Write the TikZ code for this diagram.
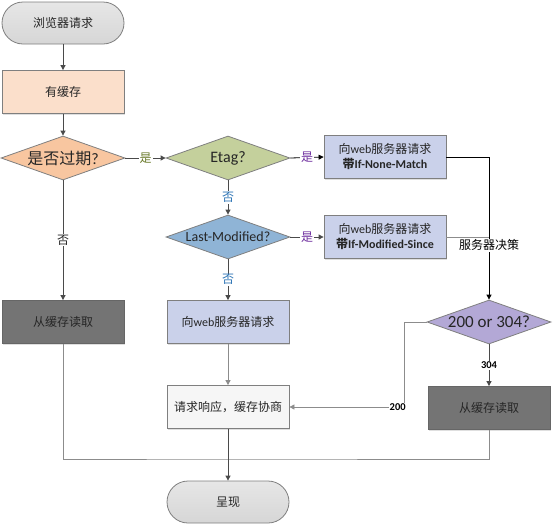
\documentclass[tikz,border=0pt]{standalone}
\usepackage{fontspec}
\setmainfont{Carlito}
\newfontfamily\cjk{Noto Sans CJK SC}
\usetikzlibrary{shapes.geometric,arrows.meta,shadows}
\definecolor{termfill}{HTML}{D6D6D6}
\definecolor{cachefill}{HTML}{FBDFCB}
\definecolor{expfill}{HTML}{F8C6A0}
\definecolor{etagfill}{HTML}{C4D09C}
\definecolor{lavfill}{HTML}{CAD1EA}
\definecolor{lmfill}{HTML}{8FB4D6}
\definecolor{purfill}{HTML}{B3A8D6}
\definecolor{darkfill}{HTML}{747474}
\definecolor{respfill}{HTML}{F6F6F6}
\definecolor{edgecol}{HTML}{4A4A4A}
\definecolor{lightedge}{HTML}{8C8C8C}
\definecolor{bordercol}{HTML}{7F7F7F}
\definecolor{txt}{HTML}{262626}
\definecolor{olivetxt}{HTML}{6B7B2B}
\definecolor{purtxt}{HTML}{7030A0}
\definecolor{bluetxt}{HTML}{2E75B6}
\newcommand{\zw}[1]{\makebox[0pt]{#1}}
\tikzset{
  base/.style={draw=bordercol, line width=0.8pt, text=txt, align=center, inner sep=1pt},
  term/.style={base, rectangle, rounded corners=21pt, minimum width=122pt, minimum height=42pt,
    top color=termfill!60!white, bottom color=termfill, font=\fontsize{12}{14}\selectfont},
  box/.style={base, rectangle, minimum width=122pt, minimum height=43pt,
    drop shadow={shadow xshift=1.2pt, shadow yshift=-1.2pt, opacity=0.25},
    font=\fontsize{12}{15}\selectfont},
  dec/.style={base, diamond, aspect=2.8, minimum width=124pt, minimum height=44pt, inner sep=0pt},
  flow/.style={draw=edgecol, line width=0.8pt, -{Triangle[length=5pt,width=5pt]}},
  lflow/.style={draw=lightedge, line width=0.8pt, -{Triangle[length=5pt,width=5pt]}},
  lline/.style={draw=lightedge, line width=0.8pt},
  lab/.style={fill=white, inner sep=1pt, font=\fontsize{12}{13}\selectfont}
}
\begin{document}
\begin{tikzpicture}[x=1pt,y=-1pt]
\useasboundingbox (0,0) rectangle (554,528);

\node[term] (start) at (63,23) {\cjk 浏览器请求};
\node[box, fill=cachefill] (cache) at (63,92) {\cjk 有缓存};
\node[dec, fill=expfill, font=\fontsize{16}{18}\selectfont] (expired) at (63,158) {\zw{{\cjk 是否过期}?}};
\node[dec, fill=etagfill, font=\fontsize{16}{18}\selectfont] (etag) at (228,158) {\zw{Etag?}};
\node[box, fill=lavfill] (inm) at (385,157) {{\cjk 向}web{\cjk 服务器请求}\\{\cjk\bfseries 带}\textbf{If-None-Match}};
\node[dec, fill=lmfill, font=\fontsize{14}{15}\selectfont] (lm) at (228,237) {\zw{Last-Modified?}};
\node[box, fill=lavfill] (ims) at (385,237) {{\cjk 向}web{\cjk 服务器请求}\\{\cjk\bfseries 带}\textbf{If-Modified-Since}};
\node[dec, fill=purfill, font=\fontsize{17}{18}\selectfont] (d200) at (489,322) {\zw{200 or 304?}};
\node[box, fill=darkfill, draw=black!60] (readL) at (63,322) {\cjk 从缓存读取};
\node[box, fill=lavfill] (req) at (228,322) {{\cjk 向}web{\cjk 服务器请求}};
\node[box, fill=respfill] (resp) at (228,407) {\cjk 请求响应，缓存协商};
\node[box, fill=darkfill, draw=black!60] (readR) at (489,408) {\cjk 从缓存读取};
\node[term] (show) at (228,502) {\cjk 呈现};
\coordinate (join) at (228,459);

\draw[flow] (start) -- (cache);
\draw[flow] (cache) -- (expired);
\draw[flow] (expired.east) -- node[lab, text=olivetxt] {\cjk 是} (etag.west);
\draw[flow] (expired.south) -- node[lab, text=txt] {\cjk 否} (readL.north);
\draw[flow, draw=black] (etag.east) -- node[lab, text=purtxt] {\cjk 是} (inm.west);
\draw[flow] (etag.south) -- node[lab, text=bluetxt] {\cjk 否} (lm.north);
\draw[flow] (lm.east) -- node[lab, text=purtxt] {\cjk 是} (ims.west);
\draw[flow] (lm.south) -- node[lab, text=bluetxt] {\cjk 否} (req.north);
\draw[lflow] (req.south) -- (resp.north);
\draw[flow, draw=black] (inm.east) -| node[lab, pos=0.81] {\cjk 服务器决策} (d200.north);
\draw[lline] (ims.east) -- (ims.east -| d200.north);
\draw[lflow] (d200.west) -- ++(-22,0) |- node[lab, pos=0.53, font=\bfseries\fontsize{10.5}{12}\selectfont] {200} (resp.east);
\draw[flow] (d200.south) -- node[lab, font=\bfseries\fontsize{10.5}{12}\selectfont] {304} (readR.north);
\draw[lline] (readL.south) |- (join) -| (readR.south);
\draw[flow] (resp.south) -- (show.north);
\end{tikzpicture}
\end{document}
